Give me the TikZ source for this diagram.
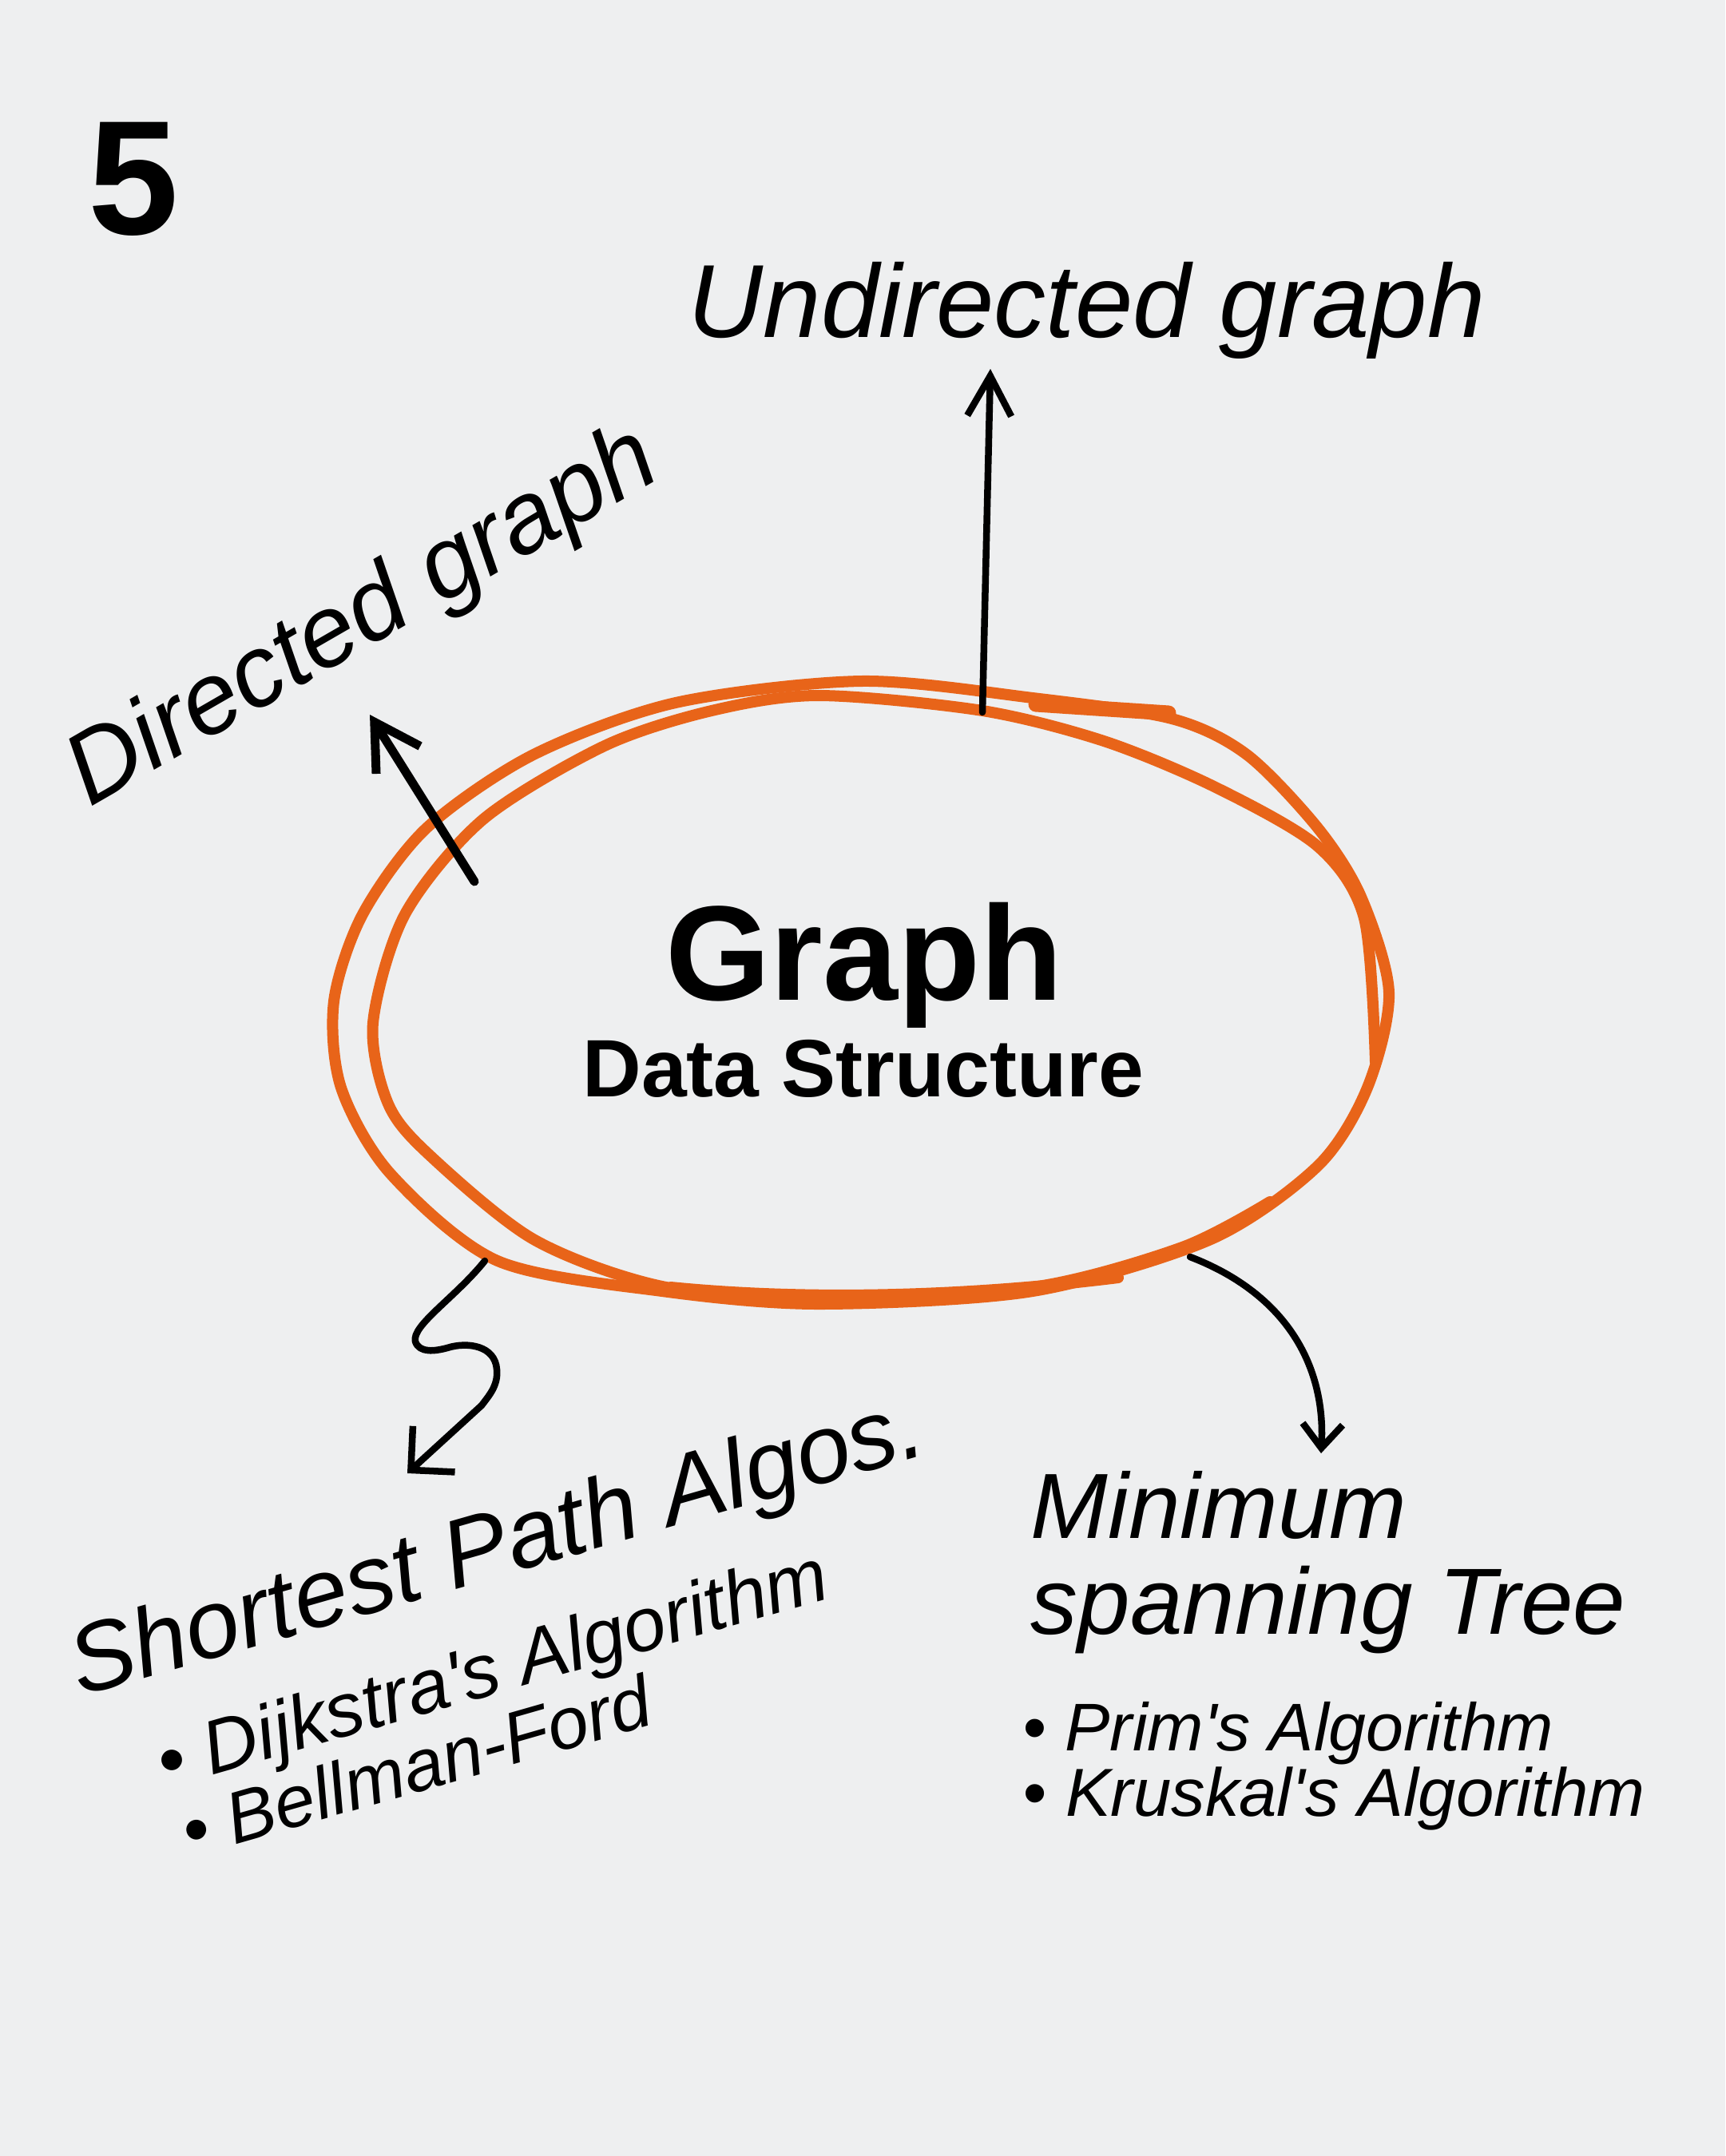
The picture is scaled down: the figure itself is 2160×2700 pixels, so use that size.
\documentclass[tikz,border=0pt]{standalone}
\usepackage{fontspec}
\setmainfont{Liberation Sans}
\newfontfamily\handfont{Liberation Sans}
\usetikzlibrary{arrows.meta}
\definecolor{paper}{RGB}{238,239,240}
\definecolor{sketchorange}{RGB}{232,100,25}

\begin{document}
\begin{tikzpicture}[
    x=0.01cm, y=-0.01cm,
    hand/.style={font=\handfont\itshape\fontsize{#1}{#1}\selectfont, anchor=base west, inner sep=0pt},
    heavy/.style={font=\bfseries\fontsize{#1}{#1}\selectfont, inner sep=0pt},
    pen/.style={line width=0.85mm, line cap=round, line join=round},
    loopline/.style={draw=sketchorange, line width=1.4mm, line cap=round, line join=round}
]

\path[use as bounding box, fill=paper] (0,0) rectangle (2160,2700);

\node[heavy=58, anchor=base west] (num) at (110,293) {5};


\draw[loopline] plot[smooth cycle] coordinates {
    (1079,853) (1293,874) (1467,900) (1561,945) (1650,1037) (1704,1123)
    (1739,1243) (1712,1362) (1650,1460) (1516,1552) (1293,1617) (1025,1633)
    (829,1617) (623,1579) (489,1470) (427,1362) (418,1254) (454,1145)
    (534,1037) (668,945) (846,880)};
\draw[loopline] plot[smooth] coordinates {
    (1722,1330) (1708,1150) (1650,1060) (1520,985) (1382,928) (1230,890)
    (1025,871) (891,890) (757,934) (605,1026) (507,1145) (467,1281)
    (485,1380) (534,1443) (668,1552) (829,1611) (1025,1627) (1293,1612)
    (1480,1562) (1590,1505)};
\draw[sketchorange, line width=1.9mm, line cap=round] (1297,882) -- (1463,893);
\draw[sketchorange, line width=1.4mm, line cap=round] (840,1612) .. controls (1000,1628) and (1200,1625) .. (1400,1600);

\node[heavy=48, anchor=base] (graph) at (1082,1252) {Graph};
\node[heavy=29, anchor=base] (datastruct) at (1081,1373) {Data Structure};


\node[hand=37] (undirected) at (861,422) {Undirected graph};
\node[hand=36, rotate=30] (directed) at (112,1012) {Directed graph};

\node[hand=34.5, rotate=16] (shortest) at (100,2125) {Shortest Path Algos.};
\node[hand=27, rotate=16] (dijkstra) at (207,2240) {• Dijkstra's Algorithm};
\node[hand=26, rotate=16] (bellman) at (238,2326) {• Bellman-Ford};

\node[hand=33] (minimum) at (1290,1926) {Minimum};
\node[hand=33.5] (spanning) at (1290,2046) {spanning Tree};
\node[hand=24] (prim) at (1280,2192) {• Prim's Algorithm};
\node[hand=24.2] (kruskal) at (1280,2274) {• Kruskal's Algorithm};


\coordinate (ug-tail) at (1230,892);
\coordinate (ug-tip) at (1240,462);
\coordinate (dg-tail) at (594,1104);
\coordinate (dg-tip) at (463,895);
\coordinate (sp-tail) at (607,1579);
\coordinate (sp-tip) at (510,1845);
\coordinate (mst-tail) at (1490,1574);
\coordinate (mst-tip) at (1654,1820);

\draw[pen, -{Straight Barb[length=5mm,width=5.5mm]}] (ug-tail) -- (ug-tip);
\draw[pen, line width=1.1mm, -{Straight Barb[length=5.6mm,width=6.5mm]}] (dg-tail) -- (dg-tip);
\draw[pen, -{Straight Barb[length=3.9mm,width=7.8mm]}] (sp-tail)
    .. controls (570,1625) and (515,1660) .. (520,1680)
    .. controls (525,1695) and (545,1692) .. (560,1688)
    .. controls (585,1680) and (620,1685) .. (622,1715)
    .. controls (624,1735) and (612,1748) .. (603,1760) -- (sp-tip);
\draw[pen, -{Straight Barb[length=3mm,width=5mm]}] (mst-tail)
    .. controls (1610,1620) and (1660,1710) .. (mst-tip);

\end{tikzpicture}
\end{document}
